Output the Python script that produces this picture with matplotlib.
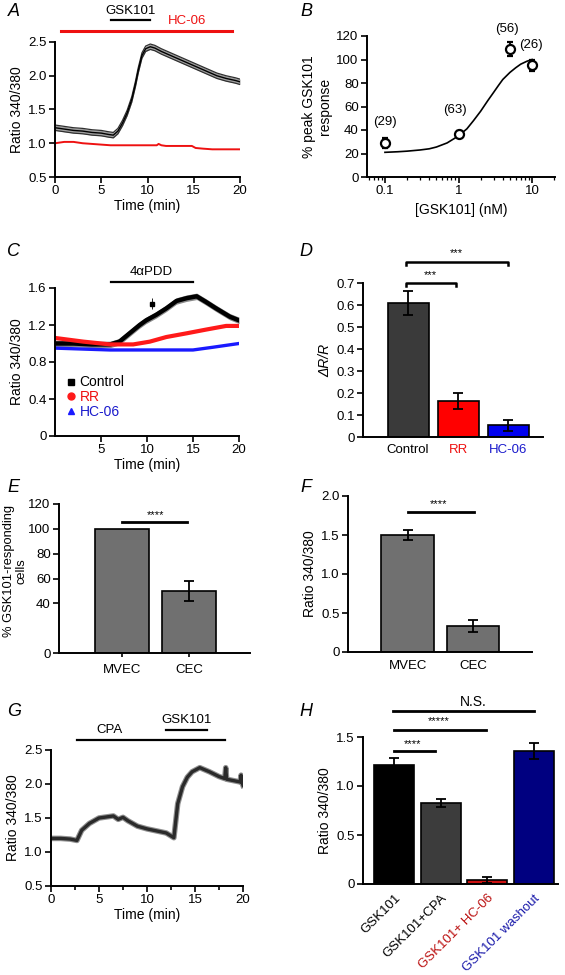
import numpy as np
import matplotlib
matplotlib.use("Agg")
import matplotlib.pyplot as plt
from matplotlib.ticker import FixedLocator, FixedFormatter, LogLocator, NullFormatter

plt.rcParams['font.family'] = ['Liberation Sans', 'DejaVu Sans']
plt.rcParams['font.size'] = 9.5

# ---- panel A: GSK101 trace with / without HC-06
t_a_ctrl = [0, 1, 2, 3, 4, 5, 5.8, 6.3, 6.8, 7.3, 7.8, 8.3, 8.7, 9.0, 9.4, 9.8,
            10.3, 10.8, 11.5, 12.5, 13.5, 14.5, 15.5, 16.5, 17.5, 18.5, 19.5, 20]
ratio_a_ctrl = [1.23, 1.21, 1.19, 1.18, 1.16, 1.15, 1.13, 1.12, 1.18, 1.30, 1.45, 1.65,
                1.88, 2.08, 2.30, 2.40, 2.43, 2.41, 2.36, 2.30, 2.24, 2.18, 2.12, 2.06,
                2.00, 1.96, 1.93, 1.91]
sem_a_ctrl = 0.04
t_a_hc = [0, 1, 2, 3, 4, 5, 6, 8, 10, 11, 11.2, 11.5, 12, 13, 14, 14.8, 15.2, 16, 17, 18, 19, 20]
ratio_a_hc = [1.00, 1.02, 1.02, 1.00, 0.99, 0.98, 0.97, 0.97, 0.97, 0.97, 0.99, 0.97,
              0.96, 0.96, 0.96, 0.96, 0.93, 0.92, 0.91, 0.91, 0.91, 0.91]

# ---- panel B: dose response
dose_b = [0.1, 1, 5, 10]
resp_b = [29, 37, 109, 95]
err_b = [4, 2, 6, 5]
n_b = ['(29)', '(63)', '(56)', '(26)']
fit_x = [0.1, 0.15, 0.2, 0.3, 0.4, 0.5, 0.7, 1.0, 1.3, 1.6, 2.0, 2.5, 3.0, 3.5,
         4.0, 5.0, 6.0, 7.0, 8.5, 10]
fit_y = [21, 21.5, 22, 23, 24, 25.5, 29, 35, 41, 48, 56, 65, 72, 78, 83, 89, 93, 96, 98.5, 100]

# ---- panel C: 4aPDD traces
t_c = [0, 2, 4, 6, 7, 8.1, 9.2, 9.9, 11, 12.1, 13.2, 14.3, 15.4, 16.4, 17.5, 19, 20]
ratio_c_ctrl = [1.00, 1.00, 0.99, 0.99, 1.02, 1.11, 1.20, 1.25, 1.31, 1.38, 1.46, 1.49,
                1.51, 1.45, 1.38, 1.29, 1.25]
sem_c_ctrl = 0.035
t_c_rr = [0, 3.1, 6, 8.5, 10.3, 12.1, 14.3, 16.4, 18.6, 20]
ratio_c_rr = [1.06, 1.02, 0.99, 0.99, 1.02, 1.07, 1.11, 1.15, 1.19, 1.19]
t_c_hc = [0, 6, 15, 17.2, 19.3, 20]
ratio_c_hc = [0.95, 0.93, 0.93, 0.96, 0.99, 1.00]

# ---- panel D
groups_d = ['Control', 'RR', 'HC-06']
dr_d = [0.61, 0.163, 0.053]
err_d = [0.055, 0.035, 0.025]

# ---- panel E / F
groups_ef = ['MVEC', 'CEC']
pct_e = [100, 50]
err_e = [0, 8]
ratio_f = [1.5, 0.335]
err_f = [0.07, 0.075]

# ---- panel G: CPA then GSK101
t_g = [0, 1, 2, 2.7, 3.2, 4, 5, 5.5, 6, 6.5, 7, 7.5, 8, 9, 10, 11, 12, 12.8, 13.2,
       13.7, 14.2, 14.7, 15.5, 16.5, 17.5, 18.1, 18.2, 18.3, 19, 19.7, 19.8, 19.9, 20]
ratio_g = [1.20, 1.20, 1.19, 1.17, 1.32, 1.42, 1.50, 1.51, 1.52, 1.53, 1.48, 1.51,
           1.46, 1.38, 1.34, 1.31, 1.28, 1.21, 1.71, 1.96, 2.10, 2.18, 2.24, 2.18,
           2.11, 2.08, 2.24, 2.07, 2.05, 2.03, 2.13, 2.02, 1.98]

# ---- panel H
groups_h = ['GSK101', 'GSK101+CPA', 'GSK101+ HC-06', 'GSK101 washout']
ratio_h = [1.21, 0.83, 0.04, 1.355]
err_h = [0.08, 0.04, 0.03, 0.08]


def style(ax):
    for s in ['top', 'right']:
        ax.spines[s].set_visible(False)
    for s in ['left', 'bottom']:
        ax.spines[s].set_linewidth(1.4)
    ax.tick_params(direction='out', length=4, width=1.2, labelsize=9.5, pad=2)


def yticks(ax, vals, labels):
    ax.yaxis.set_major_locator(FixedLocator(vals))
    ax.yaxis.set_major_formatter(FixedFormatter(labels))


fig = plt.figure(figsize=(5.65, 9.75), dpi=100)
W, H = 565.0, 975.0


def add_ax(x0, y0, x1, y1):
    return fig.add_axes([x0 / W, 1 - y1 / H, (x1 - x0) / W, (y1 - y0) / H])


letters = [('A', 14, 11), ('B', 306, 11), ('C', 13, 251), ('D', 306, 251),
           ('E', 13, 487), ('F', 306, 487), ('G', 14, 711), ('H', 306, 711)]
for let, px, py in letters:
    fig.text(px / W, 1 - py / H, let, fontsize=13, style='italic', ha='center', va='center')

# ---------------- A
ax = add_ax(55, 42, 240, 177)
style(ax)
lo = np.array(ratio_a_ctrl) - sem_a_ctrl
hi = np.array(ratio_a_ctrl) + sem_a_ctrl
ax.fill_between(t_a_ctrl, lo, hi, color='#a0a0a0', lw=0)
ax.plot(t_a_ctrl, lo, color='#303030', lw=0.9)
ax.plot(t_a_ctrl, hi, color='#303030', lw=0.9)
ax.plot(t_a_ctrl, ratio_a_ctrl, color='black', lw=1.0)
ax.plot(t_a_hc, ratio_a_hc, color='#ee1111', lw=1.4)
ax.set_xlim(0, 20)
ax.set_ylim(0.5, 2.5)
ax.set_xticks([0, 5, 10, 15, 20])
yticks(ax, [0.5, 1.0, 1.5, 2.0, 2.5], ['0.5', '1.0', '1.5', '2.0', '2.5'])
ax.set_xlabel('Time (min)', fontsize=10, labelpad=1)
ax.set_ylabel('Ratio 340/380', fontsize=10, labelpad=3)
ax.plot([6.1, 10.3], [2.82, 2.82], color='black', lw=1.6, clip_on=False)
ax.text(8.2, 2.87, 'GSK101', ha='center', va='bottom', fontsize=9.5)
ax.plot([0.7, 19.1], [2.67, 2.67], color='#ee1111', lw=2.2, clip_on=False)
ax.text(14.3, 2.72, 'HC-06', ha='center', va='bottom', fontsize=9.5, color='#ee1111')

# ---------------- B
ax = add_ax(367, 36, 555, 177)
style(ax)
ax.set_xscale('log')
ax.plot(fit_x, fit_y, color='black', lw=1.2)
ax.errorbar(dose_b, resp_b, yerr=err_b, fmt='o', ms=6.5, mfc='white', mec='black',
            mew=1.6, ecolor='black', elinewidth=1.3, capsize=2.5, capthick=1.3)
ax.set_xlim(0.057, 20.5)
ax.set_ylim(0, 120)
ax.set_xticks([0.1, 1, 10])
ax.set_xticklabels(['0.1', '1', '10'])
ax.xaxis.set_minor_locator(LogLocator(base=10, subs=np.arange(2, 10)))
ax.xaxis.set_minor_formatter(NullFormatter())
ax.tick_params(which='minor', length=2.5, width=0.9)
yticks(ax, [0, 20, 40, 60, 80, 100, 120], ['0', '20', '40', '60', '80', '100', '120'])
ax.set_xlabel('[GSK101] (nM)', fontsize=10, labelpad=4)
ax.set_ylabel('% peak GSK101\nresponse', fontsize=10, labelpad=3)
lab_pos = [(0.1, 42), (0.9, 52), (4.5, 121), (9.8, 107)]
for txt, (lx, ly) in zip(n_b, lab_pos):
    ax.text(lx, ly, txt, ha='center', va='bottom', fontsize=9.5, clip_on=False)

# ---------------- C
ax = add_ax(55, 288, 239, 436)
style(ax)
lo = np.array(ratio_c_ctrl) - sem_c_ctrl
hi = np.array(ratio_c_ctrl) + sem_c_ctrl
ax.fill_between(t_c, lo, hi, color='#8a8a8a', lw=0)
ax.plot(t_c, ratio_c_ctrl, color='black', lw=3.2)
ax.errorbar([10.5], [1.43], yerr=[0.06], fmt='s', ms=2.5, color='black', elinewidth=0.6)
ax.plot(t_c_rr, ratio_c_rr, color='#ff1a1a', lw=3.0)
ax.plot(t_c_hc, ratio_c_hc, color='#1a1aff', lw=2.4)
ax.set_xlim(0, 20)
ax.set_ylim(0, 1.6)
ax.set_xticks([5, 10, 15, 20])
yticks(ax, [0, 0.4, 0.8, 1.2, 1.6], ['0', '0.4', '0.8', '1.2', '1.6'])
ax.set_xlabel('Time (min)', fontsize=10, labelpad=1)
ax.set_ylabel('Ratio 340/380', fontsize=10, labelpad=3)
ax.plot([6.1, 15], [1.67, 1.67], color='black', lw=1.6, clip_on=False)
ax.text(10.5, 1.71, '4\u03b1PDD', ha='center', va='bottom', fontsize=9.5)
h1, = ax.plot([], [], 's', color='black', ms=4.5)
h2, = ax.plot([], [], 'o', color='#ff1a1a', ms=5)
h3, = ax.plot([], [], '^', color='#1a1aff', ms=4.5)
ax.legend([h1, h2, h3], ['Control', 'RR', 'HC-06'], loc='lower left',
          bbox_to_anchor=(0.02, 0.06), frameon=False, fontsize=10,
          handlelength=0.6, handletextpad=0.3, labelspacing=0.05, borderpad=0.1,
          labelcolor=['black', '#ee1111', '#1a1acc'])

# ---------------- D
ax = add_ax(363, 283, 543, 437)
style(ax)
xd = np.arange(len(groups_d))
ax.bar(xd, dr_d, width=0.82, color=['#3a3a3a', '#ff0000', '#0000ee'], edgecolor='black', lw=1.2)
ax.errorbar(xd, dr_d, yerr=err_d, fmt='none', ecolor='black', elinewidth=1.3,
            capsize=3.5, capthick=1.3)
ax.set_xlim(-0.9, 2.7)
ax.set_ylim(0, 0.7)
ax.set_xticks(xd)
ax.set_xticklabels(groups_d, fontsize=9.5)
for lbl, c in zip(ax.get_xticklabels(), ['black', '#ee1111', '#1a1acc']):
    lbl.set_color(c)
ax.tick_params(axis='x', length=0, pad=5)
yticks(ax, [0, 0.1, 0.2, 0.3, 0.4, 0.5, 0.6, 0.7],
       ['0', '0.1', '0.2', '0.3', '0.4', '0.5', '0.6', '0.7'])
ax.set_ylabel('\u0394R/R', fontsize=10, style='italic', labelpad=3)
for (x0, x1, yb, ys) in [(-0.05, 0.95, 0.70, 0.735), (-0.05, 2.0, 0.795, 0.835)]:
    ax.plot([x0, x0, x1, x1], [yb - 0.013, yb, yb, yb - 0.013], color='black', lw=1.8,
            clip_on=False)
    ax.text((x0 + x1) / 2, ys, '***', ha='center', va='center', fontsize=8)

# ---------------- E
ax = add_ax(59, 504, 250, 653)
style(ax)
xe = np.arange(len(groups_ef))
ax.bar(xe, pct_e, width=0.81, color='#707070', edgecolor='black', lw=1.2)
ax.errorbar(xe[1:], pct_e[1:], yerr=err_e[1:], fmt='none', ecolor='black',
            elinewidth=1.3, capsize=3.5, capthick=1.3)
ax.set_xlim(-0.94, 1.91)
ax.set_ylim(0, 120)
ax.set_xticks(xe)
ax.set_xticklabels(groups_ef, fontsize=9.5)
ax.tick_params(axis='x', length=3, pad=5)
yticks(ax, [0, 40, 60, 80, 100, 120], ['0', '40', '60', '80', '100', '120'])
ax.set_ylabel('% GSK101-responding\ncells', fontsize=9.3, linespacing=1.0)
ax.yaxis.set_label_coords(-0.165, 0.55)
ax.plot([0, 0.97], [105.8, 105.8], color='black', lw=2.0, clip_on=False)
ax.text(0.5, 111, '****', ha='center', va='center', fontsize=8)

# ---------------- F
ax = add_ax(348, 496, 532, 652)
style(ax)
ax.bar(xe, ratio_f, width=0.81, color='#707070', edgecolor='black', lw=1.2)
ax.errorbar(xe, ratio_f, yerr=err_f, fmt='none', ecolor='black', elinewidth=1.3,
            capsize=3.5, capthick=1.3)
ax.set_xlim(-0.92, 1.91)
ax.set_ylim(0, 2.0)
ax.set_xticks(xe)
ax.set_xticklabels(groups_ef, fontsize=9.5)
ax.tick_params(axis='x', length=0, pad=6)
yticks(ax, [0, 0.5, 1.0, 1.5, 2.0], ['0', '0.5', '1.0', '1.5', '2.0'])
ax.set_ylabel('Ratio 340/380', fontsize=10, labelpad=3)
ax.plot([0, 1.02], [1.795, 1.795], color='black', lw=2.0, clip_on=False)
ax.text(0.48, 1.9, '****', ha='center', va='center', fontsize=8)

# ---------------- G
ax = add_ax(51, 750, 243, 886)
style(ax)
ax.plot(t_g, ratio_g, color='#909090', lw=4.0)
ax.plot(t_g, ratio_g, color='#2a2a2a', lw=2.4)
ax.set_xlim(0, 20)
ax.set_ylim(0.5, 2.5)
ax.set_xticks([0, 5, 10, 15, 20])
ax.set_xticks([2.5, 7.5, 12.5, 17.5], minor=True)
ax.tick_params(which='minor', direction='out', length=3, width=1.2)
yticks(ax, [0.5, 1.0, 1.5, 2.0, 2.5], ['0.5', '1.0', '1.5', '2.0', '2.5'])
ax.set_xlabel('Time (min)', fontsize=10, labelpad=1)
ax.set_ylabel('Ratio 340/380', fontsize=10, labelpad=3)
ax.plot([2.7, 18.1], [2.65, 2.65], color='black', lw=1.6, clip_on=False)
ax.text(6.1, 2.7, 'CPA', ha='center', va='bottom', fontsize=9.5)
ax.plot([12, 16.3], [2.80, 2.80], color='black', lw=1.6, clip_on=False)
ax.text(14.1, 2.85, 'GSK101', ha='center', va='bottom', fontsize=9.5)

# ---------------- H
ax = add_ax(363, 737, 558, 884)
style(ax)
xh = np.arange(len(groups_h))
ax.bar(xh, ratio_h, width=0.86, color=['#000000', '#3c3c3c', '#cc1111', '#000080'],
       edgecolor='black', lw=1.2)
ax.errorbar(xh, ratio_h, yerr=err_h, fmt='none', ecolor='black', elinewidth=1.3,
            capsize=3.5, capthick=1.3)
ax.set_xlim(-0.67, 3.52)
ax.set_ylim(0, 1.5)
ax.set_xticks(xh)
ax.set_xticklabels(groups_h, rotation=45, ha='right', rotation_mode='anchor', fontsize=9.5)
for lbl, c in zip(ax.get_xticklabels(), ['black', 'black', '#bb1111', '#1a1aaa']):
    lbl.set_color(c)
ax.tick_params(axis='x', length=0, pad=6)
yticks(ax, [0, 0.5, 1.0, 1.5], ['0', '0.5', '1.0', '1.5'])
ax.set_ylabel('Ratio 340/380', fontsize=10, labelpad=3)
ax.plot([0, 0.88], [1.36, 1.36], color='black', lw=2.0, clip_on=False)
ax.text(0.4, 1.43, '****', ha='center', va='center', fontsize=8)
ax.plot([0, 1.98], [1.575, 1.575], color='black', lw=2.0, clip_on=False)
ax.text(0.95, 1.66, '*****', ha='center', va='center', fontsize=8)
ax.plot([-0.02, 3.0], [1.765, 1.765], color='black', lw=2.0, clip_on=False)
ax.text(1.7, 1.86, 'N.S.', ha='center', va='center', fontsize=10)

fig.savefig('out.png', dpi=100)
